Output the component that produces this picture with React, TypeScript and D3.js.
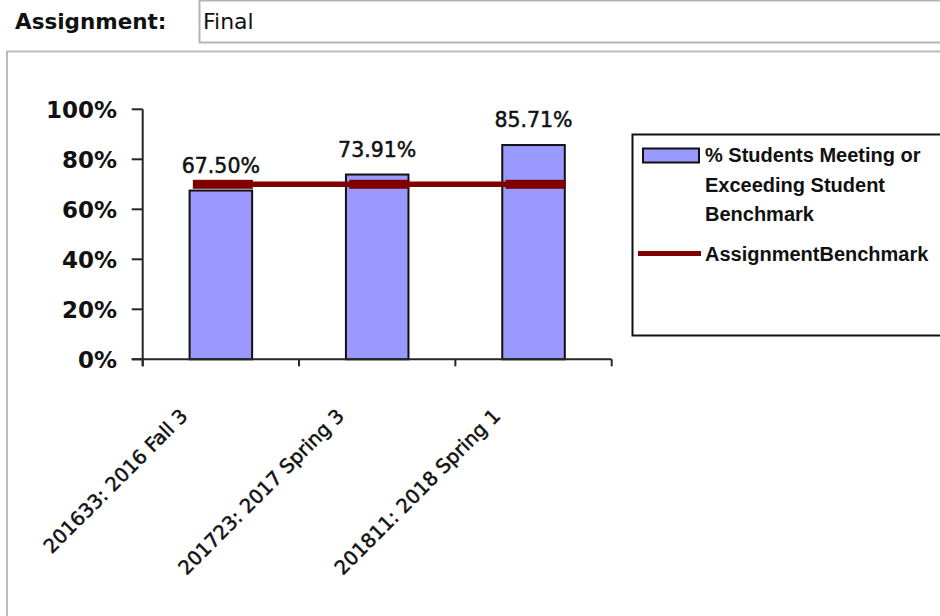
import * as d3 from "d3";
import React from "react";

// values
const categories = ["201633: 2016 Fall 3", "201723: 2017 Spring 3", "201811: 2018 Spring 1"];
const studentPct = [0.675, 0.7391, 0.8571];
const benchmark = [0.7, 0.7, 0.7];
const yTicks = [0, 0.2, 0.4, 0.6, 0.8, 1];
const legendBarLines = ["% Students Meeting or", "Exceeding Student", "Benchmark"];
const legendLineLabel = "AssignmentBenchmark";

const W = 940;
const H = 616;
const BAR_FILL = "#9999ff";
const LINE_COLOR = "#800000";
const AXIS = "#262626";
const FONT = "'DejaVu Sans', Verdana, sans-serif";
const LEGEND_FONT = "'Liberation Sans', Arial, sans-serif";

const Chart = () => {
  const y = d3.scaleLinear().domain([0, 1]).range([359.3, 109.3]);
  const x = d3
    .scaleBand<string>()
    .domain(categories)
    .range([142.7, 611.7])
    .paddingInner(0.6)
    .paddingOuter(0.3);
  const step = x.step();
  const x0 = x.range()[0];
  const boundaries = d3.range(categories.length + 1).map((i) => x0 + i * step);

  const cx = (c: string) => (x(c) || 0) + x.bandwidth() / 2 + 2;
  const linePath = d3
    .line<number>()
    .x((_, i) => cx(categories[i]))
    .y((d) => y(d))(benchmark);

  return (
    <svg width={W} height={H} style={{ display: "block", background: "#fff" }}>
      {/* header */}
      <text x={15} y={29} fontFamily={FONT} fontWeight="bold" fontSize={21.5} fill="#111">
        Assignment:
      </text>
      <rect x={199.5} y={0.5} width={760} height={42} fill="#fff" stroke="#b4b4b4" strokeWidth={2} />
      <text x={203} y={29} fontFamily={FONT} fontSize={22} fill="#111">
        Final
      </text>
      {/* chart frame */}
      <rect x={7} y={51.5} width={960} height={600} fill="#fff" stroke="#bcbcbc" strokeWidth={2} />

      {/* bars */}
      {categories.map((c, i) => (
        <rect
          key={c}
          x={x(c)}
          y={y(studentPct[i])}
          width={x.bandwidth()}
          height={y(0) - y(studentPct[i])}
          fill={BAR_FILL}
          stroke="#111"
          strokeWidth={2}
        />
      ))}

      {/* benchmark line with dash markers */}
      <path d={linePath || undefined} fill="none" stroke={LINE_COLOR} strokeWidth={5.5} />
      {categories.map((c, i) => (
        <rect
          key={c}
          x={cx(c) - 30}
          y={y(benchmark[i]) - 4.5}
          width={60}
          height={9}
          fill={LINE_COLOR}
        />
      ))}

      {/* data labels */}
      {categories.map((c, i) => (
        <text
          key={c}
          x={(x(c) || 0) + x.bandwidth() / 2}
          y={y(studentPct[i]) - 18}
          textAnchor="middle"
          fontFamily={FONT}
          fontSize={20.5}
          fill="#111"
          stroke="#111"
          strokeWidth={0.5}
        >
          {d3.format(".2%")(studentPct[i])}
        </text>
      ))}

      {/* y axis */}
      <line x1={142.7} x2={142.7} y1={y(1)} y2={y(0) + 7} stroke={AXIS} strokeWidth={2} />
      {yTicks.map((t) => (
        <g key={t}>
          <line x1={131.7} x2={142.7} y1={y(t)} y2={y(t)} stroke={AXIS} strokeWidth={2} />
          <text
            x={117}
            y={y(t) + 9}
            textAnchor="end"
            fontFamily={FONT}
            fontWeight="bold"
            fontSize={23}
            fill="#111"
          >
            {d3.format(".0%")(t)}
          </text>
        </g>
      ))}

      {/* x axis */}
      <line x1={131.7} x2={x.range()[1]} y1={y(0)} y2={y(0)} stroke={AXIS} strokeWidth={2} />
      {boundaries.map((b) => (
        <line key={b} x1={b} x2={b} y1={y(0)} y2={y(0) + 7} stroke={AXIS} strokeWidth={2} />
      ))}
      {categories.map((c) => (
        <text
          key={c}
          transform={`translate(${(x(c) || 0) + x.bandwidth() / 2 - 32},${y(0) + 58}) rotate(-45)`}
          textAnchor="end"
          fontFamily={FONT}
          fontSize={19.5}
          fill="#111"
          stroke="#111"
          strokeWidth={0.5}
        >
          {c}
        </text>
      ))}

      {/* legend */}
      <rect x={632.5} y={134.5} width={320} height={201} fill="#fff" stroke="#111" strokeWidth={2} />
      <rect x={643} y={148.5} width={56} height={14} fill={BAR_FILL} stroke="#111" strokeWidth={2} />
      {legendBarLines.map((t, i) => (
        <text
          key={t}
          x={705}
          y={162 + i * 29.5}
          fontFamily={LEGEND_FONT}
          fontWeight="bold"
          fontSize={20}
          fill="#111"
        >
          {t}
        </text>
      ))}
      <line x1={638} x2={701} y1={253.5} y2={253.5} stroke={LINE_COLOR} strokeWidth={5} />
      <text x={705} y={261} fontFamily={LEGEND_FONT} fontWeight="bold" fontSize={20} fill="#111">
        {legendLineLabel}
      </text>
    </svg>
  );
};

export default function App() {
  return (
    <div style={{ position: "absolute", left: 0, top: 0, width: W, height: H, overflow: "hidden" }}>
      <Chart />
    </div>
  );
}
